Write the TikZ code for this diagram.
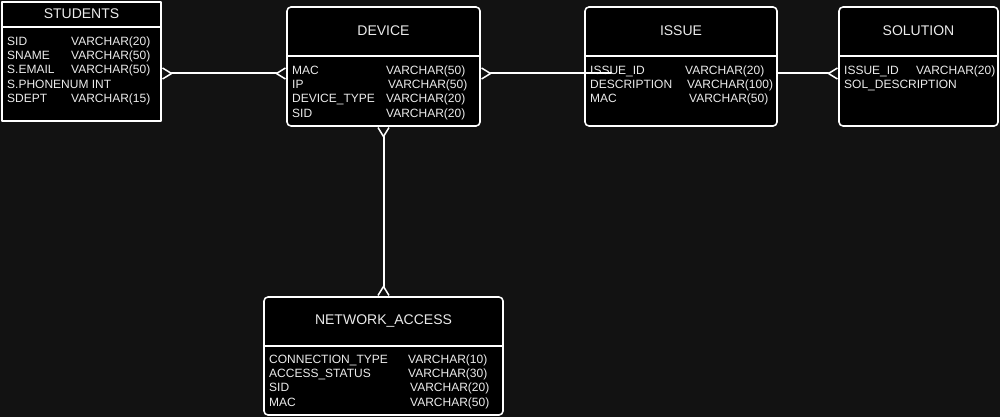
\documentclass[tikz,border=0pt]{standalone}
\usepackage{fontspec}
\setmainfont{Liberation Sans}
\usepackage{tikz}
\usetikzlibrary{arrows.meta}
\definecolor{bg}{rgb}{0.07,0.07,0.07}
\definecolor{txt}{rgb}{0.92,0.92,0.92}

\begin{document}
\begin{tikzpicture}[x=1pt,y=-1pt,line cap=round,line join=round,
  entity/.style={draw=white,fill=black,line width=1.6pt,inner sep=0pt},
  divider/.style={white,line width=1.6pt,line cap=butt},
  title/.style={text=txt,inner sep=0pt,font=\fontsize{14}{16}\selectfont},
  attr/.style={text=txt,inner sep=0pt,anchor=base west,font=\fontsize{12}{14.25}\selectfont},
  rel/.style={draw=white,line width=2pt},
  crow/.tip={Straight Barb[reversed,length=9pt,width=11pt,line width=1.5pt]}]
\fill[bg] (0,0) rectangle (1000,417);
\node[entity,minimum width=159pt,minimum height=119pt] (stu) at (81.5,61.5) {};
\node[entity,rounded corners=4pt,minimum width=193pt,minimum height=119pt] (dev) at (383.5,66.5) {};
\node[entity,rounded corners=4pt,minimum width=192pt,minimum height=119pt] (iss) at (681,66.5) {};
\node[entity,rounded corners=4pt,minimum width=159pt,minimum height=119pt] (sol) at (918.5,66.5) {};
\node[entity,rounded corners=4pt,minimum width=239pt,minimum height=118pt] (net) at (383.5,356) {};
\draw[divider] (stu.west |- 0,27) -- (stu.east |- 0,27);
\draw[divider] (dev.west |- 0,56) -- (dev.east |- 0,56);
\draw[divider] (iss.west |- 0,56) -- (iss.east |- 0,56);
\draw[divider] (sol.west |- 0,56) -- (sol.east |- 0,56);
\draw[divider] (net.west |- 0,346) -- (net.east |- 0,346);
\node[title] (stut) at (81.5,14) {STUDENTS};
\node[title] (devt) at (383.5,31) {DEVICE};
\node[title] (isst) at (681,31) {ISSUE};
\node[title] (solt) at (918.5,31) {SOLUTION};
\node[title] (nett) at (383.5,321) {NETWORK\_ACCESS};
\node[attr] (stua) at (7,45.3) {\begin{tabular}[t]{@{}p{64pt}@{}l@{}}
SID & VARCHAR(20)\\
SNAME & VARCHAR(50)\\
S.EMAIL & VARCHAR(50)\\
\multicolumn{2}{@{}l@{}}{S.PHONENUM INT}\\
SDEPT & VARCHAR(15)
\end{tabular}};
\node[attr] (deva) at (292,74.3) {\begin{tabular}[t]{@{}p{94pt}@{}l@{}}
MAC & VARCHAR(50)\\
IP & \,VARCHAR(50)\\
DEVICE\_TYPE & VARCHAR(20)\\
SID & VARCHAR(20)
\end{tabular}};
\node[attr] (issa) at (590,74.3) {\begin{tabular}[t]{@{}p{95pt}@{}l@{}}
ISSUE\_ID & VARCHAR(20)\\
DESCRIPTION & \,VARCHAR(100)\\
MAC & \,\,VARCHAR(50)
\end{tabular}};
\node[attr] (sola) at (844,74.3) {\begin{tabular}[t]{@{}p{72pt}@{}l@{}}
ISSUE\_ID & VARCHAR(20)\\
\multicolumn{2}{@{}l@{}}{SOL\_DESCRIPTION}
\end{tabular}};
\node[attr] (neta) at (269,363.3) {\begin{tabular}[t]{@{}p{139pt}@{}l@{}}
CONNECTION\_TYPE & VARCHAR(10)\\
ACCESS\_STATUS & VARCHAR(30)\\
SID & \,VARCHAR(20)\\
MAC & \,VARCHAR(50)
\end{tabular}};
\draw[rel,crow-crow] ([yshift=-12pt]stu.east) -- ([yshift=-7pt]dev.west);
\draw[rel,crow-] ([yshift=-7pt]dev.east) -- ([xshift=27pt,yshift=-7pt]iss.west);
\draw[rel,-crow] ([yshift=-7pt]iss.east) -- ([yshift=-7pt]sol.west);
\draw[rel,crow-crow] (dev.south) -- (net.north);
\end{tikzpicture}
\end{document}
